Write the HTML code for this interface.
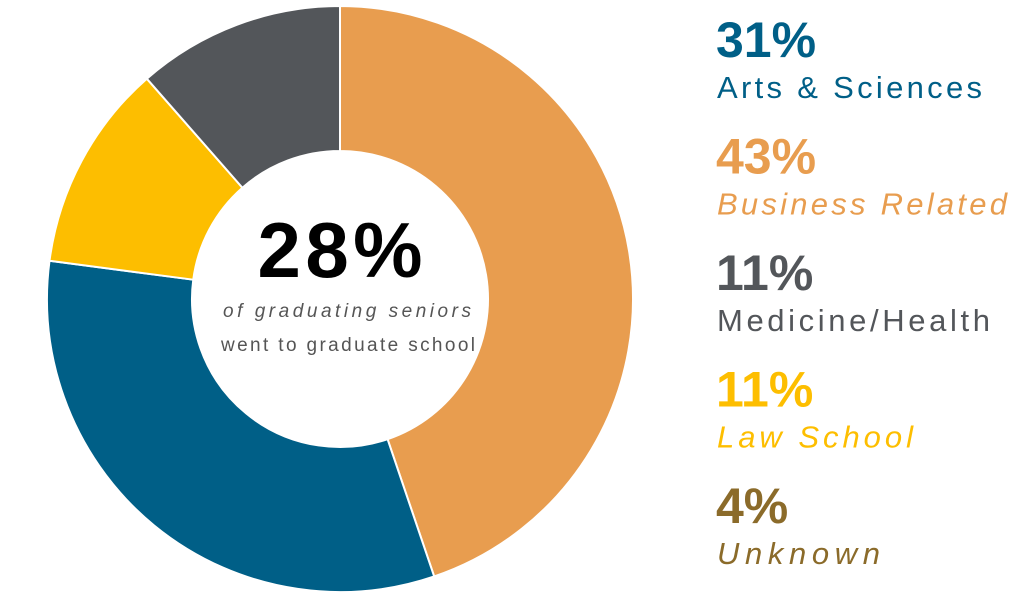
<!DOCTYPE html>
<html><head><meta charset="utf-8"><style>
html,body{margin:0;padding:0;background:#fff;}
svg{display:block;font-family:"Liberation Sans",sans-serif;}
</style></head><body>
<svg id="chart" width="1024" height="598" viewBox="0 0 1024 598">
<g id="slices"></g>
<g>
<text x="340" y="277" text-anchor="middle" font-size="78" font-weight="bold" fill="#000" textLength="165">28%</text>
<text x="347" y="317" text-anchor="middle" font-size="19" font-style="italic" fill="#555" textLength="248">of graduating seniors</text>
<text x="348" y="351" text-anchor="middle" font-size="19" fill="#555" textLength="254">went to graduate school</text>
</g>
<g id="legend"></g>
</svg>
<script>
const categories = ["Business Related","Arts & Sciences","Law School","Medicine/Health"];
const values = [43,31,11,11];
const colors = ["#E89D4F","#005F87","#FDBE00","#53565A"];
const legendLabels = ["Arts & Sciences","Business Related","Medicine/Health","Law School","Unknown"];
const legendValues = [31,43,11,11,4];
const legendColors = ["#005F87","#E89D4F","#53565A","#FDBE00","#8B6B2A"];
const legendItalic = [false,true,false,true,true];

const NS="http://www.w3.org/2000/svg";
const cx=340, cy=299, R=293, r=148;
const total=values.reduce((a,b)=>a+b,0);
function pt(a,rad){return [cx+rad*Math.sin(a), cy-rad*Math.cos(a)];}
const sg=document.getElementById('slices');
let acc=0;
values.forEach((v,i)=>{
  const a0=acc/total*2*Math.PI; acc+=v; const a1=acc/total*2*Math.PI;
  const large=(a1-a0)>Math.PI?1:0;
  const [x0,y0]=pt(a0,R),[x1,y1]=pt(a1,R),[x2,y2]=pt(a1,r),[x3,y3]=pt(a0,r);
  const p=document.createElementNS(NS,'path');
  p.setAttribute('d',`M${x0},${y0}A${R},${R} 0 ${large} 1 ${x1},${y1}L${x2},${y2}A${r},${r} 0 ${large} 0 ${x3},${y3}Z`);
  p.setAttribute('fill',colors[i]);
  p.setAttribute('stroke','#fff');
  p.setAttribute('stroke-width','2');
  
  
  sg.appendChild(p);
});
const lg=document.getElementById('legend');
const labelWidths=[265,290,273,196,163];
legendLabels.forEach((lab,i)=>{
  const y=57+i*116.5;
  const t=document.createElementNS(NS,'text');
  t.setAttribute('x',716);t.setAttribute('y',y);
  t.setAttribute('font-size','50');t.setAttribute('font-weight','bold');
  t.setAttribute('fill',legendColors[i]);
  t.textContent=legendValues[i]+'%';
  
  
  lg.appendChild(t);
  const l=document.createElementNS(NS,'text');
  l.setAttribute('x',717);l.setAttribute('y',y+41);
  l.setAttribute('font-size','31');
  if(legendItalic[i]) l.setAttribute('font-style','italic');
  l.setAttribute('fill',legendColors[i]);
  l.setAttribute('textLength',labelWidths[i]);
  l.textContent=lab;
  
  
  lg.appendChild(l);
});
</script>
</body></html>
